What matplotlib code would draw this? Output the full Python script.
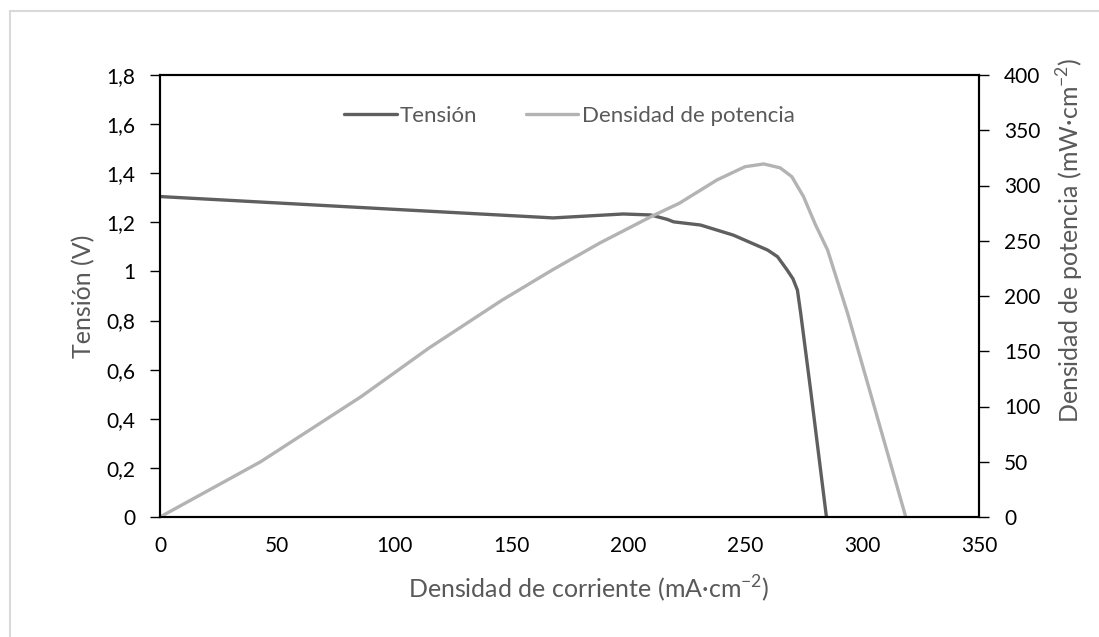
import numpy as np
import matplotlib
matplotlib.use('Agg')
import matplotlib.pyplot as plt
from matplotlib.patches import Rectangle
from matplotlib.ticker import FuncFormatter, MultipleLocator

plt.rcParams['font.family'] = ['Lato', 'DejaVu Sans']
plt.rcParams['mathtext.fontset'] = 'custom'
plt.rcParams['mathtext.rm'] = 'Lato'
plt.rcParams['axes.unicode_minus'] = False

# current density (mA/cm2) vs cell voltage (V)
i_tension = [0, 50, 100, 168, 198, 209.7, 216.8, 219.5, 231, 245, 259.7, 263.9,
             268, 270.5, 272.4, 273.8, 278, 284.8]
tension = [1.305, 1.279, 1.253, 1.218, 1.234, 1.230, 1.212, 1.202, 1.189, 1.148,
           1.087, 1.06, 1.006, 0.97, 0.924, 0.83, 0.52, 0.0]

# current density (mA/cm2) vs power density (mW/cm2)
i_potencia = [0, 43, 86, 115, 146, 168, 188, 210, 222, 238, 250, 258, 265,
              270, 275, 280, 285.3, 293.8, 302.4, 318.7]
potencia = [0, 50, 109, 153, 196, 224, 248, 272, 284, 305, 317, 319.5, 316,
            308, 290, 265, 241.6, 184.6, 121, 0]

c_tension = '#5f5f5f'
c_potencia = '#b3b3b3'
c_label = '#595959'

fig = plt.figure(figsize=(10.99, 6.37), dpi=100)
fig.add_artist(Rectangle((10 / 1099, -0.1), 1.2, 1.1 - 11 / 637,
                         transform=fig.transFigure, fill=False,
                         edgecolor='#d9d9d9', linewidth=1.5))

ax = fig.add_axes([160 / 1099, 1 - 517 / 637, 819 / 1099, 442 / 637])
ax2 = ax.twinx()

l1, = ax.plot(i_tension, tension, color=c_tension, lw=2.4,
              solid_capstyle='round', solid_joinstyle='round', label='Tensión')
l2, = ax2.plot(i_potencia, potencia, color=c_potencia, lw=2.4,
               solid_capstyle='round', solid_joinstyle='round', label='Densidad de potencia')

ax.set_xlim(0, 350)
ax.set_ylim(0, 1.8)
ax2.set_ylim(0, 400)
ax.xaxis.set_major_locator(MultipleLocator(50))
ax.yaxis.set_major_locator(MultipleLocator(0.2))
ax2.yaxis.set_major_locator(MultipleLocator(50))

comma = FuncFormatter(lambda v, p: ('%.1f' % v).rstrip('0').rstrip('.').replace('.', ','))
ax.yaxis.set_major_formatter(comma)

for a in (ax, ax2):
    for s in a.spines.values():
        s.set_color('black')
        s.set_linewidth(1.5)

ax.tick_params(axis='y', direction='out', length=7, width=1, labelsize=15,
               pad=11, colors='black')
ax.tick_params(axis='x', length=0, labelsize=15, pad=14, colors='black')
ax2.tick_params(axis='y', direction='out', length=7, width=1, labelsize=15,
                pad=11, colors='black')

ax.set_xlabel('Densidad de corriente (mA·cm$^{\\mathregular{-2}}$)',
              fontsize=18, color=c_label, va='center')
ax.xaxis.set_label_coords((589 - 160) / 819, -(589 - 517) / 442)
ax.set_ylabel('Tensión (V)', fontsize=18, color=c_label, va='center')
ax.yaxis.set_label_coords(-(160 - 84) / 819, 0.5)
ax2.set_ylabel('Densidad de potencia (mW·cm$^{\\mathregular{-2}}$)',
               fontsize=18, color=c_label, va='center')
ax2.yaxis.set_label_coords((1070 - 160) / 819, (517 - 240) / 442)

ax.legend(handles=[l1, l2], loc='center', bbox_to_anchor=(0.5, (517 - 116) / 442),
          ncol=2, frameon=False, fontsize=16, handlelength=2.35,
          handletextpad=0.15, columnspacing=2.2, labelcolor=c_label)

fig.savefig('out.png', dpi=100)
